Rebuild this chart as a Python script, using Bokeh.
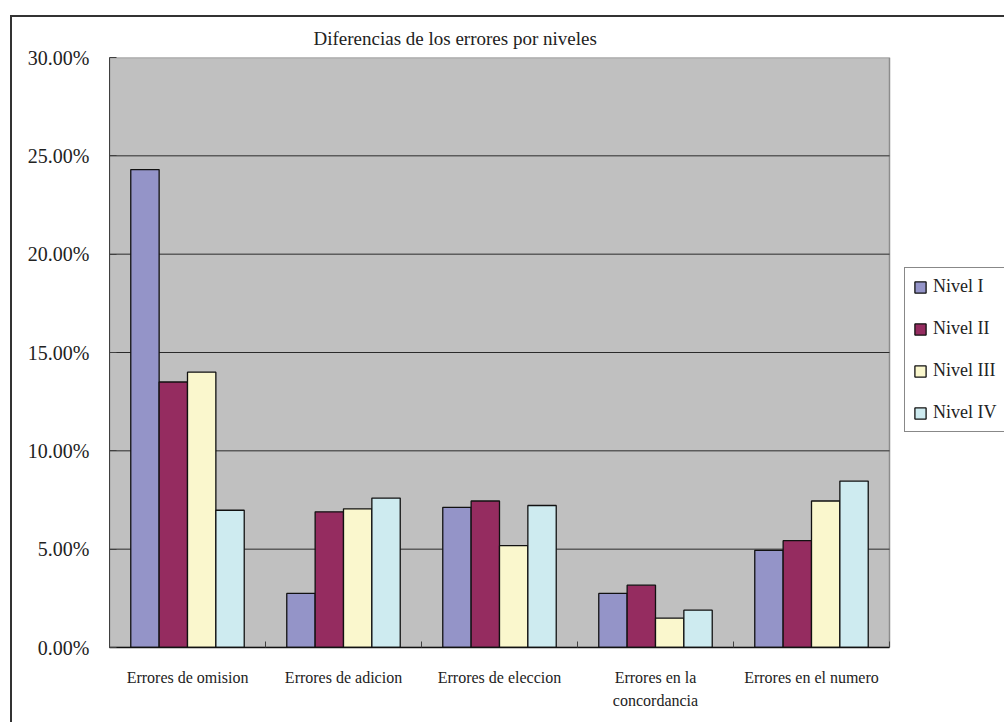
from bokeh.plotting import figure
from bokeh.models import (ColumnDataSource, Range1d, FixedTicker, PrintfTickFormatter,
                          Legend, LegendItem, CustomJSTickFormatter)
from bokeh.transform import dodge
from bokeh.embed import file_html
from bokeh.resources import INLINE

# ---- data (percent) ----
categories = ["Errores de omision", "Errores de adicion", "Errores de eleccion",
              "Errores en la\nconcordancia", "Errores en el numero"]
series_names = ["Nivel I", "Nivel II", "Nivel III", "Nivel IV"]
nivel_1 = [24.3, 2.75, 7.13, 2.75, 4.94]
nivel_2 = [13.5, 6.9, 7.45, 3.17, 5.43]
nivel_3 = [14.0, 7.05, 5.18, 1.49, 7.45]
nivel_4 = [6.98, 7.6, 7.22, 1.90, 8.46]
y_ticks = [0, 5, 10, 15, 20, 25, 30]

colors = ["#9494C8", "#952C60", "#FAF7CD", "#CEEBF0"]
FONT = "Liberation Serif"

n_cat = len(categories)
x_centers = [i + 0.5 for i in range(n_cat)]
src = ColumnDataSource(dict(x=x_centers, n1=nivel_1, n2=nivel_2, n3=nivel_3, n4=nivel_4))

# layout (pixels): plot area spans x 109..889, y 57..647; the frame is widened
# to the right edge so the legend can sit beside the plot area unclipped.
W, H = 1004, 722
PL, PR, PT, PB = 109, 889, 57, 647
x_end = n_cat * (W - PL) / (PR - PL)

p = figure(width=W, height=H, output_backend="svg", toolbar_location=None,
           x_range=Range1d(0, x_end), y_range=Range1d(y_ticks[0], y_ticks[-1]),
           min_border_left=PL, min_border_right=0, min_border_top=PT,
           min_border_bottom=H - PB)

p.background_fill_color = None
p.border_fill_color = None
p.outline_line_color = None
# outer chart-area border (left and top edges visible)
p.styles = {
    "background": ("linear-gradient(#333,#333) 10px 15px / 2px 3000px no-repeat, "
                   "linear-gradient(#333,#333) 10px 15px / 3000px 2px no-repeat, white"),
}

# gray plot area
p.quad(left=0, right=n_cat, bottom=y_ticks[0], top=y_ticks[-1],
       fill_color="#C0C0C0", line_color="#8C8C8C", line_width=1.5)
# horizontal gridlines over the plot area
p.segment(x0=[0] * (len(y_ticks) - 2), x1=[n_cat] * (len(y_ticks) - 2),
          y0=y_ticks[1:-1], y1=y_ticks[1:-1], line_color="#2a2a2a", line_width=1)

# title
p.title.text = "Diferencias de los errores por niveles"
p.title.text_font = FONT
p.title.text_font_size = "19px"
p.title.text_font_style = "normal"
p.title.text_color = "#222222"
p.title.align = "left"
p.title.offset = 204
p.title.standoff = 18

# bars
bw = 1.0 / 5.5
offsets = [-1.5 * bw, -0.5 * bw, 0.5 * bw, 1.5 * bw]
fields = ["n1", "n2", "n3", "n4"]
renderers = []
for f, off, c in zip(fields, offsets, colors):
    r = p.vbar(x=dodge("x", off), top=f, width=bw, bottom=0, source=src,
               fill_color=c, line_color="#111111", line_width=1.3)
    renderers.append(r)

# no automatic grid
p.xgrid.grid_line_color = None
p.ygrid.grid_line_color = None

# y axis
p.yaxis.ticker = FixedTicker(ticks=y_ticks)
p.yaxis.formatter = PrintfTickFormatter(format="%.2f%%")
p.yaxis.major_label_text_font = FONT
p.yaxis.major_label_text_font_size = "20px"
p.yaxis.major_label_text_color = "#222222"
p.yaxis.major_tick_in = 7
p.yaxis.major_tick_out = 0
p.yaxis.minor_tick_line_color = None
p.yaxis.major_tick_line_color = "#404040"
p.yaxis.axis_line_color = "#404040"
p.yaxis.major_label_standoff = 20

# x axis
p.xaxis.bounds = (0, n_cat)
p.xaxis.ticker = FixedTicker(ticks=x_centers, minor_ticks=list(range(n_cat + 1)))
p.xaxis.formatter = CustomJSTickFormatter(args=dict(labels=categories),
                                          code="return labels[Math.round(tick - 0.5)] || '';")
p.xaxis.major_tick_line_color = None
p.xaxis.minor_tick_in = 6
p.xaxis.minor_tick_out = 0
p.xaxis.minor_tick_line_color = "#404040"
p.xaxis.axis_line_color = "#111111"
p.xaxis.axis_line_width = 1.5
p.xaxis.major_label_text_font = FONT
p.xaxis.major_label_text_font_size = "16px"
p.xaxis.major_label_text_color = "#222222"
p.xaxis.major_label_text_line_height = 1.4
p.xaxis.major_label_standoff = 15

# legend
legend = Legend(items=[LegendItem(label=n, renderers=[r]) for n, r in zip(series_names, renderers)],
                location=(795, 215))
legend.label_text_font = FONT
legend.label_text_font_size = "18px"
legend.label_text_color = "#222222"
legend.glyph_width = 14
legend.glyph_height = 14
legend.label_height = 20
legend.label_standoff = 6
legend.spacing = 21
legend.padding = 8
legend.margin = 0
legend.border_line_color = "#111111"
legend.border_line_width = 1
legend.background_fill_color = "white"
legend.background_fill_alpha = 1
p.add_layout(legend, "center")

open("out.html", "w").write(file_html(p, INLINE))
